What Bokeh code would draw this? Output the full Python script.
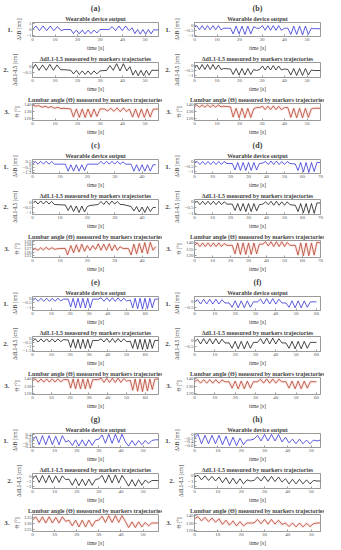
from bokeh.plotting import figure
from bokeh.layouts import column, row
from bokeh.models import Range1d, FixedTicker, Title, LinearAxis
from bokeh.embed import file_html
from bokeh.resources import INLINE

# ---------------- data: (time [s], value) extrema ----------------
a1 = [(0,0),(1.5,0.6),(3.1,-0.2),(4.7,0.6),(6.3,-0.2),(7.9,0.6),(9.5,-0.2),(11.1,0.5),(12.7,-0.2),(14,0),(17,0),(18.2,-0.7),(19.5,-0.1),(20.8,-0.75),(22.1,-0.1),(23.4,-0.75),(24.7,-0.1),(26,-0.7),(27.3,-0.1),(28.6,-0.6),(30,0),(34,0),(35.4,0.5),(36.9,-0.2),(38.4,0.6),(39.9,-0.2),(41.4,0.6),(42.9,-0.2),(44.3,0.3),(45.5,-0.7),(46.7,0),(47.9,-0.8),(49.1,0),(50.3,-0.8),(51.5,0),(52.7,-0.75),(53.9,0),(55,-0.1),(56,0)]
a2 = [(0,-0.2),(1.3,0.2),(2.9,-0.3),(4.5,0.15),(6.1,-0.3),(7.7,0.2),(9.3,-0.3),(10.9,0.15),(12.5,-0.25),(14,-0.25),(17,-0.3),(18.2,-0.6),(19.5,-0.3),(20.8,-0.65),(22.1,-0.35),(23.4,-0.65),(24.7,-0.35),(26,-0.65),(27.3,-0.35),(28.6,-0.6),(30,-0.35),(33,-0.3),(34.4,0.1),(35.9,-0.3),(37.4,0.25),(38.9,-0.35),(40.4,0.25),(41.9,-0.35),(43.3,0.0),(44.6,-0.7),(45.8,-0.3),(47,-0.75),(48.2,-0.3),(49.4,-0.75),(50.6,-0.3),(51.8,-0.7),(53,-0.3),(55,-0.3),(56,-0.3)]
a3 = [(0,140),(1.5,138),(2.8,139),(4.2,136.5),(5.6,138),(7,136),(8.4,137.5),(9.8,135),(11.2,136.5),(12.6,134.5),(14,135),(17,134),(18.2,122),(19.5,134),(20.8,121.5),(22.1,134),(23.4,121.5),(24.7,134),(26,122),(27.3,134),(28.6,123),(30,134),(32,134),(33.4,131),(34.8,135),(36.2,130.5),(37.6,135.5),(39,130),(40.4,135.5),(41.8,130),(43,134),(44.5,122),(45.8,134),(47.1,121.5),(48.4,134),(49.7,121.5),(51,134),(52.3,122),(53.6,133.5),(56,134)]

b1 = [(0,-0.2),(1,-0.05),(2.2,-0.45),(3.4,-0.05),(4.6,-0.45),(5.8,-0.05),(7,-0.45),(8.2,-0.05),(9.4,-0.45),(10.6,-0.05),(11.8,-0.45),(13,-0.3),(16,-0.3),(17.2,-0.85),(18.5,-0.1),(19.8,-0.85),(21.1,-0.1),(22.4,-0.9),(23.7,-0.1),(25,-0.85),(26.3,-0.15),(27.5,-0.3),(29,-0.3),(30.2,-0.05),(31.4,-0.5),(32.6,-0.05),(33.8,-0.5),(35,-0.05),(36.2,-0.5),(37.4,-0.05),(38.6,-0.5),(40,-0.3),(41.5,-0.3),(42.8,-0.9),(44.1,-0.1),(45.4,-0.9),(46.7,-0.1),(48,-0.95),(49.3,-0.1),(50.6,-0.9),(51.9,-0.3),(53,-0.35),(56,-0.35)]
b2 = [(0,-0.3),(1,0.05),(2.2,-0.4),(3.4,0.1),(4.6,-0.4),(5.8,0.1),(7,-0.4),(8.2,0.1),(9.4,-0.4),(10.6,0.05),(11.8,-0.4),(13,-0.3),(16,-0.35),(17.2,-0.9),(18.5,-0.3),(19.8,-0.95),(21.1,-0.3),(22.4,-0.95),(23.7,-0.3),(25,-0.9),(26.3,-0.4),(27.5,-0.5),(29,-0.4),(30.2,-0.05),(31.4,-0.45),(32.6,-0.05),(33.8,-0.45),(35,0),(36.2,-0.45),(37.4,-0.05),(38.6,-0.45),(40,-0.35),(41.5,-0.4),(42.8,-0.95),(44.1,-0.3),(45.4,-1.0),(46.7,-0.3),(48,-1.0),(49.3,-0.3),(50.6,-0.95),(51.9,-0.45),(53,-0.5),(56,-0.5)]
b3 = [(0,137),(1,140),(2.2,136.5),(3.4,140),(4.6,136.5),(5.8,140),(7,136.5),(8.2,140),(9.4,136.5),(10.6,140),(11.8,137),(13,138),(16,137),(17.2,122),(18.5,135),(19.8,121),(21.1,135),(22.4,121),(23.7,135),(25,121.5),(26.3,134),(27.5,136),(29,136),(30.2,138),(31.4,133),(32.6,138),(33.8,133),(35,138.5),(36.2,133),(37.4,138),(38.6,133),(40,136),(41.5,136),(42.8,121.5),(44.1,135),(45.4,121),(46.7,135),(48,121),(49.3,135),(50.6,121.5),(51.9,134),(53,135),(56,135)]

c1 = [(0,0),(1,0.45),(2,0),(3,0.5),(4,0),(5,0.5),(6,0),(7,0.45),(8,0),(12,0),(13,-1.2),(14,-0.1),(15,-1.2),(16,-0.1),(17,-1.2),(18,-0.1),(19,-1.1),(20,0),(24,0),(25,0.5),(26,0),(27,0.5),(28,0),(29,0.5),(30,0),(31,0.5),(32,0),(33,0.4),(34,0),(36,0),(37,-1.2),(38,-0.1),(39,-1.2),(40,-0.1),(41,-1.2),(42,-0.1),(43,-1.2),(44,-0.1),(45,-0.1)]
c2 = [(0,-0.1),(1,0.15),(2,-0.15),(3,0.15),(4,-0.15),(5,0.15),(6,-0.15),(7,0.1),(8,-0.2),(12,-0.25),(13,-0.8),(14,-0.3),(15,-0.9),(16,-0.35),(17,-1.0),(18,-0.35),(19,-0.95),(20,-0.4),(21,-0.3),(24,-0.2),(25,0.1),(26,-0.2),(27,0.15),(28,-0.2),(29,0.15),(30,-0.15),(31,0.1),(32,-0.2),(33,-0.2),(36,-0.4),(37,-0.85),(38,-0.4),(39,-0.95),(40,-0.45),(41,-1.0),(42,-0.4),(43,-0.9),(44,-0.5),(45,-0.5)]
c3 = [(0,126.5),(1,127),(2,126.5),(3,127.2),(4,126.6),(5,127.3),(6,126.7),(7,127.2),(8,126.8),(10,127),(12,127),(12.8,125.2),(14,127.8),(15,125.8),(16,128),(17,126),(18,128.2),(19,126.2),(20,127.8),(21,126.5),(22,127.8),(23,126.7),(24,128.3),(25,126.5),(26,128.2),(27,126.5),(28,128.3),(29,126.4),(30,128),(31,126.5),(32,127.5),(33,127),(35,127),(36,125.2),(37,128.2),(38,125.5),(39,128.4),(40,125.8),(41,128.6),(42,125.5),(43,128.7),(44,126.5),(45,127.5)]

d1 = [(0,-0.15),(1.5,0),(3,-0.3),(4.5,0),(6,-0.3),(7.5,0),(9,-0.3),(10.5,0),(12,-0.3),(13.5,0),(15,-0.3),(16.5,0),(18,-0.2),(21,-0.2),(22.5,-0.85),(24,-0.1),(25.5,-0.9),(27,-0.1),(28.5,-0.9),(30,-0.1),(31.5,-0.9),(33,-0.1),(34.5,-0.85),(36,-0.2),(38,-0.15),(39.5,0),(41,-0.3),(42.5,0.05),(44,-0.3),(45.5,0.05),(47,-0.3),(48.5,0),(50,-0.3),(51.5,0),(53,-0.2),(56,-0.25),(57.5,-0.9),(59,-0.1),(60.5,-1.05),(62,-0.1),(63.5,-1.1),(65,-0.1),(66.5,-1.0),(68,-0.1),(70,-0.1)]
d2 = [(0,-0.1),(1.5,0.05),(3,-0.25),(4.5,0.05),(6,-0.25),(7.5,0.05),(9,-0.25),(10.5,0.05),(12,-0.25),(13.5,0.05),(15,-0.25),(16.5,0),(18,-0.2),(21,-0.2),(22.5,-0.75),(24,-0.15),(25.5,-0.8),(27,-0.15),(28.5,-0.85),(30,-0.15),(31.5,-0.85),(33,-0.15),(34.5,-0.8),(36,-0.25),(38,-0.2),(39.5,0),(41,-0.25),(42.5,0.05),(44,-0.3),(45.5,0.05),(47,-0.3),(48.5,0),(50,-0.3),(51.5,0),(53,-0.25),(56,-0.3),(57.5,-0.85),(59,-0.15),(60.5,-0.95),(62,-0.15),(63.5,-1.0),(65,-0.15),(66.5,-1.0),(68,-0.1),(70,-0.1)]
d3 = [(0,138),(1.5,140),(3,137),(4.5,140),(6,137),(7.5,140),(9,137),(10.5,140),(12,137),(13.5,140),(15,137),(16.5,139.5),(18,138),(21,138),(22.5,131),(24,140),(25.5,130.5),(27,140),(28.5,130.5),(30,140),(31.5,130.5),(33,140),(34.5,131),(36,139),(38,139),(39.5,141),(41,137.5),(42.5,141),(44,137),(45.5,141),(47,137),(48.5,141),(50,137),(51.5,140.5),(53,138),(56,138),(57.5,130),(59,140),(60.5,129.5),(62,140),(63.5,129.5),(65,140),(66.5,130),(68,140.5),(70,140)]

e1 = [(0,-0.3),(1.5,0),(3,-0.35),(4.5,0),(6,-0.35),(7.5,0),(9,-0.35),(10.5,0),(12,-0.35),(13.5,0),(15,-0.3),(16.5,-0.1),(19,-0.1),(20.3,-1.0),(21.6,0),(22.9,-1.1),(24.2,0),(25.5,-1.1),(26.8,0),(28.1,-1.1),(29.4,0),(30.7,-1.1),(32,-0.1),(35,-0.1),(36.5,0.05),(38,-0.35),(39.5,0.05),(41,-0.35),(42.5,0.05),(44,-0.35),(45.5,0.05),(47,-0.35),(48.5,0),(50,-0.3),(52,-0.2),(53.3,-1.1),(54.6,0),(55.9,-1.2),(57.2,0),(58.5,-1.25),(59.8,0),(61.1,-1.2),(62.4,0),(63.7,-1.1),(65,-0.1),(67,-0.1)]
e2 = [(0,-0.3),(1.5,0),(3,-0.4),(4.5,0),(6,-0.4),(7.5,0),(9,-0.4),(10.5,0),(12,-0.4),(13.5,0),(15,-0.35),(16.5,-0.1),(19,-0.15),(20.3,-1.1),(21.6,-0.05),(22.9,-1.2),(24.2,-0.05),(25.5,-1.25),(26.8,-0.05),(28.1,-1.2),(29.4,-0.05),(30.7,-1.2),(32,-0.2),(35,-0.2),(36.5,0),(38,-0.4),(39.5,0.05),(41,-0.45),(42.5,0.05),(44,-0.45),(45.5,0.05),(47,-0.4),(48.5,0),(50,-0.35),(52,-0.3),(53.3,-1.2),(54.6,-0.05),(55.9,-1.3),(57.2,-0.05),(58.5,-1.35),(59.8,-0.05),(61.1,-1.3),(62.4,-0.05),(63.7,-1.2),(65,-0.2),(67,-0.2)]
e3 = [(0,137),(1.5,140),(3,135.5),(4.5,140),(6,135.5),(7.5,140),(9,135.5),(10.5,140),(12,135.5),(13.5,140),(15,136),(16.5,139),(19,139),(20.3,127),(21.6,140),(22.9,126),(24.2,140),(25.5,126),(26.8,140),(28.1,126),(29.4,140),(30.7,126.5),(32,139),(35,139),(36.5,141),(38,135),(39.5,141),(41,135),(42.5,141),(44,135),(45.5,141),(47,135),(48.5,140.5),(50,137),(52,138),(53.3,124),(54.6,140),(55.9,122.5),(57.2,140),(58.5,122),(59.8,140),(61.1,123),(62.4,140),(63.7,125),(65,139.5),(67,140)]

f1 = [(0,0),(1.5,0.2),(3,-0.2),(4.5,0.25),(6,-0.2),(7.5,0.25),(9,-0.2),(10.5,0.25),(12,-0.2),(13.5,0.2),(15,-0.1),(17,-0.1),(18.5,-0.5),(20,0.1),(21.5,-0.55),(23,0.1),(24.5,-0.55),(26,0.1),(27.5,-0.5),(29,0),(31,0),(32.5,0.25),(34,-0.2),(35.5,0.3),(37,-0.2),(38.5,0.3),(40,-0.2),(41.5,0.25),(43,-0.1),(45,-0.1),(46.5,-0.5),(48,0.1),(49.5,-0.55),(51,0.1),(52.5,-0.55),(54,0.1),(55.5,-0.5),(57,0),(60,0)]
f2 = [(0,-0.1),(1.5,0.15),(3,-0.3),(4.5,0.2),(6,-0.3),(7.5,0.2),(9,-0.3),(10.5,0.2),(12,-0.3),(13.5,0.15),(15,-0.2),(17,-0.2),(18.5,-0.7),(20,-0.05),(21.5,-0.75),(23,-0.05),(24.5,-0.75),(26,-0.05),(27.5,-0.7),(29,-0.15),(31,-0.15),(32.5,0.2),(34,-0.3),(35.5,0.25),(37,-0.3),(38.5,0.25),(40,-0.3),(41.5,0.2),(43,-0.2),(45,-0.2),(46.5,-0.7),(48,-0.05),(49.5,-0.75),(51,-0.05),(52.5,-0.75),(54,-0.05),(55.5,-0.7),(57,-0.15),(60,-0.15)]
f3 = [(0,136),(1.5,139),(3,134),(4.5,139),(6,134),(7.5,139),(9,134),(10.5,139),(12,134),(13.5,138.5),(15,136),(17,136),(18.5,127),(20,137),(21.5,126),(23,137),(24.5,126),(26,137),(27.5,127),(29,136),(31,136),(32.5,139.5),(34,134),(35.5,140),(37,134),(38.5,140),(40,134),(41.5,139.5),(43,136),(45,136),(46.5,127),(48,137),(49.5,126),(51,137),(52.5,126),(54,137),(55.5,127),(57,136),(60,136)]

g1 = [(0,0),(1.5,0.3),(3,-0.3),(4.5,0.35),(6,-0.3),(7.5,0.35),(9,-0.3),(10.5,0.3),(12,-0.3),(13.5,0.35),(15,-0.1),(16.5,0),(18,-0.35),(19.5,0.05),(21,-0.4),(22.5,0.05),(24,-0.4),(25.5,0.05),(27,-0.35),(28.5,0.05),(30,0.1),(31.5,0.4),(33,-0.2),(34.5,0.45),(36,-0.2),(37.5,0.45),(39,-0.15),(40.5,0.45),(42,-0.1),(43.5,-0.4),(45,0),(46.5,-0.35),(48,0),(49.5,-0.3),(51,0),(52.5,-0.25),(54,0),(55.5,0.05),(57,0.05)]
g2 = [(0,-0.5),(1.5,0.3),(3,-1.2),(4.5,0.3),(6,-1.3),(7.5,0.3),(9,-1.3),(10.5,0.2),(12,-1.2),(13.5,0.2),(15,-0.6),(16.5,-0.5),(18,-1.8),(19.5,-0.4),(21,-1.9),(22.5,-0.5),(24,-1.9),(25.5,-0.5),(27,-1.8),(28.5,-0.6),(30,-0.4),(31.5,0.3),(33,-1.3),(34.5,0.4),(36,-1.3),(37.5,0.4),(39,-1.3),(40.5,0.3),(42,-0.8),(43.5,-2.0),(45,-0.6),(46.5,-2.0),(48,-0.6),(49.5,-1.8),(51,-0.7),(52.5,-1.3),(54,-0.8),(57,-0.8)]
g3 = [(0,133),(1.5,136),(3,131),(4.5,136),(6,130.5),(7.5,136),(9,130.5),(10.5,135.5),(12,130.5),(13.5,136),(15,132),(16.5,133),(18,128),(19.5,133),(21,127),(22.5,133),(24,127),(25.5,133),(27,127.5),(28.5,132.5),(30,133),(31.5,136.5),(33,131),(34.5,137),(36,131),(37.5,137),(39,131),(40.5,137),(42,132),(43.5,126.5),(45,131.5),(46.5,126.5),(48,131.5),(49.5,127),(51,131),(52.5,128),(54,130.5),(57,130.5)]

h1 = [(0,-0.2),(1.5,0),(3,-0.5),(4.5,-0.05),(6,-0.5),(7.5,-0.05),(9,-0.5),(10.5,-0.05),(12,-0.55),(13.5,-0.1),(15,-0.6),(16.5,-0.15),(18,-0.6),(19.5,-0.2),(21,-0.55),(22.5,-0.3),(24,-0.3),(25.5,-0.25),(27,-0.05),(28.5,-0.35),(30,0),(31.5,-0.35),(33,0),(34.5,-0.35),(36,0),(37.5,-0.4),(39,-0.15),(40.5,-0.45),(42,-0.25),(43.5,-0.5),(45,-0.25),(46.5,-0.5),(48,-0.3),(49.5,-0.5),(51,-0.3),(52.5,-0.35),(54,-0.3)]
h2 = [(0,-0.3),(1.5,0),(3,-0.8),(4.5,-0.1),(6,-0.9),(7.5,-0.2),(9,-1.0),(10.5,-0.3),(12,-1.3),(13.5,-0.4),(15,-1.5),(16.5,-0.5),(18,-1.5),(19.5,-0.6),(21,-1.5),(22.5,-0.8),(24,-1.0),(25.5,-0.9),(27,-0.3),(28.5,-1.0),(30,-0.2),(31.5,-1.1),(33,-0.2),(34.5,-1.1),(36,-0.3),(37.5,-1.2),(39,-0.6),(40.5,-1.5),(42,-0.7),(43.5,-1.5),(45,-0.7),(46.5,-1.5),(48,-0.8),(49.5,-1.5),(51,-0.9),(52.5,-1.0),(54,-1.0)]
h3 = [(0,136),(1.5,139),(3,133),(4.5,138),(6,132),(7.5,137),(9,131),(10.5,136),(12,128),(13.5,134),(15,127),(16.5,133),(18,126),(19.5,132),(21,126),(22.5,130),(24,130),(25.5,130),(27,135),(28.5,129),(30,135),(31.5,128.5),(33,135),(34.5,128.5),(36,134),(37.5,128),(39,130),(40.5,125),(42,130),(43.5,124.5),(45,130),(46.5,124.5),(48,129.5),(49.5,125),(51,129),(52.5,130),(54,130)]

panel_labels = ["(a)", "(b)", "(c)", "(d)", "(e)", "(f)", "(g)", "(h)"]
x_max = [56, 56, 46, 70, 67, 62, 57, 54]
x_ticks = [[0,10,20,30,40,50], [0,10,20,30,40,50], [0,10,20,30,40], [0,10,20,30,40,50,60,70],
           [0,10,20,30,40,50,60], [0,10,20,30,40,50,60], [0,10,20,30,40,50], [0,10,20,30,40,50]]
series = [[a1, a2, a3], [b1, b2, b3], [c1, c2, c3], [d1, d2, d3],
          [e1, e2, e3], [f1, f2, f3], [g1, g2, g3], [h1, h2, h3]]
y_lims = [[(-1.2, 1.2), (-0.9, 0.35), (117, 142)],
          [(-1.1, 0.25), (-1.2, 0.3), (117, 142)],
          [(-1.6, 0.8), (-1.2, 0.3), (124.5, 129.2)],
          [(-1.2, 0.2), (-1.1, 0.2), (128, 142)],
          [(-1.4, 0.2), (-1.6, 0.3), (118, 142)],
          [(-0.8, 0.5), (-1.0, 0.4), (118, 142)],
          [(-0.5, 0.5), (-2.5, 0.7), (123, 138)],
          [(-0.7, 0.05), (-2.3, 0.3), (118, 142)]]
y_ticks = [[[-1, 0, 1], [-0.5, 0], [120, 130, 140]],
           [[-1, -0.5, 0], [-1, -0.5, 0], [120, 130, 140]],
           [[-1.5, -1, -0.5, 0, 0.5], [-1, -0.5, 0], [125, 126, 127, 128, 129]],
           [[-1, -0.5, 0], [-1, -0.5, 0], [130, 135, 140]],
           [[-1, -0.5, 0], [-1.5, -1, -0.5, 0], [120, 130, 140]],
           [[-0.5, 0], [-0.5, 0], [120, 130, 140]],
           [[-0.4, -0.2, 0, 0.2, 0.4], [-2, -1, 0], [125, 130, 135]],
           [[-0.6, -0.4, -0.2, 0], [-2, -1, 0], [120, 130, 140]]]

titles = ["Wearable device output", "ΔdL1-L5 measured by markers trajectories",
          "Lumbar angle (Θ) measured by markers trajectories"]
y_labels = ["ΔλB [nm]", "ΔdL1-L5 [cm]", "Θ [°]"]
row_labels = ["1.", "2.", "3."]

# ---------------- styling ----------------
SERIF = "Liberation Serif"
COLORS = ["#3434d6", "#1a1a1a", "#b4432a"]
FW = 126
FH = [14, 15, 17]
ML, MR, MB = 32, 4, 15
GRAY = "#9a9a9a"


def style_title(t, size):
    t.text_font = SERIF
    t.text_font_size = size
    t.text_font_style = "bold"
    t.align = "center"


def make_fig(k, pts, ylim, yticks, xmax, xticks, plabel=None):
    p = figure(frame_width=FW, frame_height=FH[k], output_backend="svg",
               toolbar_location=None,
               x_range=Range1d(0, xmax), y_range=Range1d(*ylim),
               min_border_left=ML, min_border_right=MR, min_border_top=0,
               min_border_bottom=MB, title=plabel if plabel else titles[k])
    if plabel:
        style_title(p.title, "8px")
        p.title.standoff = 2
        sub = Title(text=titles[k])
        style_title(sub, "6px")
        sub.standoff = 1
        p.add_layout(sub, "above")
    else:
        style_title(p.title, "6px")
        p.title.standoff = 1
    t = [q[0] for q in pts]
    v = [q[1] for q in pts]
    if k == 2:
        p.line(t, v, line_color="#f5c4c4", line_width=3, line_alpha=0.35)
    p.line(t, v, line_color=COLORS[k], line_width=0.8)
    p.xaxis.ticker = FixedTicker(ticks=xticks)
    p.yaxis.ticker = FixedTicker(ticks=yticks)
    p.xaxis.axis_label = "time [s]"
    p.yaxis.axis_label = y_labels[k]
    for ax in (p.xaxis[0], p.yaxis[0]):
        ax.major_label_text_font = SERIF
        ax.major_label_text_font_size = "5px"
        ax.major_label_text_color = "#555555"
        ax.axis_label_text_font = SERIF
        ax.axis_label_text_font_size = "5.5px"
        ax.axis_label_text_font_style = "normal"
        ax.axis_label_text_color = "#333333"
        ax.major_tick_in = 2
        ax.major_tick_out = 0
        ax.minor_tick_in = 0
        ax.minor_tick_out = 0
        ax.axis_line_color = GRAY
        ax.major_tick_line_color = GRAY
        ax.major_label_standoff = 1
        ax.axis_label_standoff = 1
    p.grid.grid_line_color = None
    p.outline_line_color = GRAY
    # row number ("1.", "2.", "3.") as a label-only axis on the far left
    lab = LinearAxis(axis_label=row_labels[k], axis_label_orientation="horizontal",
                     ticker=FixedTicker(ticks=[]))
    lab.axis_line_color = None
    lab.major_tick_line_color = None
    lab.minor_tick_line_color = None
    lab.major_label_text_font_size = "0px"
    lab.major_label_standoff = 0
    lab.axis_label_standoff = 1
    lab.axis_label_text_font = SERIF
    lab.axis_label_text_font_size = "7px"
    lab.axis_label_text_font_style = "bold"
    p.add_layout(lab, "left")
    return p


cols = []
for i in range(8):
    figs = []
    for k in range(3):
        figs.append(make_fig(k, series[i][k], y_lims[i][k], y_ticks[i][k],
                             x_max[i], x_ticks[i],
                             panel_labels[i] if k == 0 else None))
    cols.append(column(*figs, spacing=0))

layout = column(*[row(cols[j], cols[j + 1], spacing=0) for j in range(0, 8, 2)], spacing=0)

open("out.html", "w").write(file_html(layout, INLINE, "chart"))
